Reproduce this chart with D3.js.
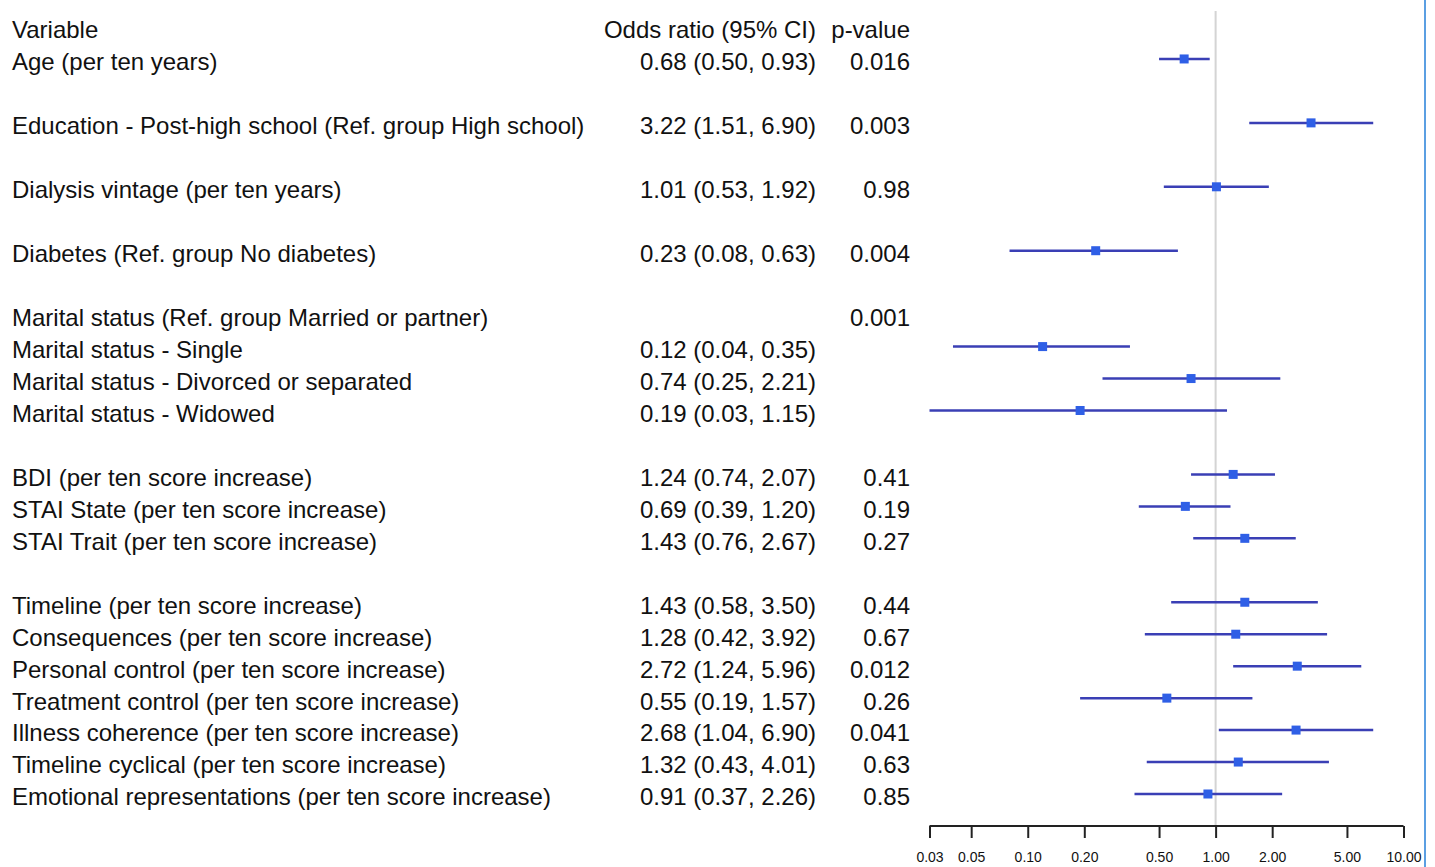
<!DOCTYPE html>
<html>
<head>
<meta charset="utf-8">
<script src="https://cdn.jsdelivr.net/npm/d3@7"></script>
<style>
  body { margin: 0; background: #fff; }
  svg text { font-family: "Liberation Sans", Arial, sans-serif; fill: #111; }
</style>
</head>
<body>
<svg id="chart" width="1435" height="867"></svg>
<script>
"use strict";

// Row labels (blank rows are spacers)
var labels = [
  "Age (per ten years)", "",
  "Education - Post-high school (Ref. group High school)", "",
  "Dialysis vintage (per ten years)", "",
  "Diabetes (Ref. group No diabetes)", "",
  "Marital status (Ref. group Married or partner)",
  "Marital status - Single",
  "Marital status - Divorced or separated",
  "Marital status - Widowed", "",
  "BDI (per ten score increase)",
  "STAI State (per ten score increase)",
  "STAI Trait (per ten score increase)", "",
  "Timeline (per ten score increase)",
  "Consequences (per ten score increase)",
  "Personal control (per ten score increase)",
  "Treatment control (per ten score increase)",
  "Illness coherence (per ten score increase)",
  "Timeline cyclical (per ten score increase)",
  "Emotional representations (per ten score increase)"
];

var oddsRatio = [0.68, null, 3.22, null, 1.01, null, 0.23, null, null, 0.12, 0.74, 0.19, null,
                 1.24, 0.69, 1.43, null, 1.43, 1.28, 2.72, 0.55, 2.68, 1.32, 0.91];
var lower     = [0.50, null, 1.51, null, 0.53, null, 0.08, null, null, 0.04, 0.25, 0.03, null,
                 0.74, 0.39, 0.76, null, 0.58, 0.42, 1.24, 0.19, 1.04, 0.43, 0.37];
var upper     = [0.93, null, 6.90, null, 1.92, null, 0.63, null, null, 0.35, 2.21, 1.15, null,
                 2.07, 1.20, 2.67, null, 3.50, 3.92, 5.96, 1.57, 6.90, 4.01, 2.26];
var pValues   = ["0.016", "", "0.003", "", "0.98", "", "0.004", "", "0.001", "", "", "", "",
                 "0.41", "0.19", "0.27", "", "0.44", "0.67", "0.012", "0.26", "0.041", "0.63", "0.85"];

var tickValues = [0.03, 0.05, 0.10, 0.20, 0.50, 1.00, 2.00, 5.00, 10.00];

var svg = d3.select("#chart");

var x = d3.scaleLog().domain([0.03, 10]).range([929.5, 1403.5]);
var y = d3.scaleLinear().domain([0, 24]).range([30, 797]);

var fmt = d3.format(".2f");

// Reference line at OR = 1
svg.append("line")
    .attr("x1", x(1)).attr("x2", x(1))
    .attr("y1", 11).attr("y2", 826)
    .attr("stroke", "#d4d4d4").attr("stroke-width", 2);

// Right border
svg.append("line")
    .attr("x1", 1425).attr("x2", 1425)
    .attr("y1", 0).attr("y2", 867)
    .attr("stroke", "#5b9fe2").attr("stroke-width", 2);

// Headers
var head = svg.append("g").attr("font-size", 24);
head.append("text").attr("x", 12).attr("y", y(0)).attr("dy", "0.35em").text("Variable");
head.append("text").attr("x", 816).attr("y", y(0)).attr("dy", "0.35em")
    .attr("text-anchor", "end").text("Odds ratio (95% CI)");
head.append("text").attr("x", 910).attr("y", y(0)).attr("dy", "0.35em")
    .attr("text-anchor", "end").text("p-value");

var rows = svg.append("g").attr("font-size", 24)
  .selectAll("g")
  .data(labels.map(function(d, i) { return i; }))
  .join("g")
    .attr("transform", function(i) { return "translate(0," + y(i + 1) + ")"; });

rows.append("text")
    .attr("x", 12).attr("dy", "0.35em")
    .text(function(i) { return labels[i]; });

rows.append("text")
    .attr("x", 816).attr("dy", "0.35em").attr("text-anchor", "end")
    .text(function(i) {
      return oddsRatio[i] == null ? "" :
        fmt(oddsRatio[i]) + " (" + fmt(lower[i]) + ", " + fmt(upper[i]) + ")";
    });

rows.append("text")
    .attr("x", 910).attr("dy", "0.35em").attr("text-anchor", "end")
    .text(function(i) { return pValues[i]; });

// CI lines and squares
var est = svg.append("g")
  .selectAll("g")
  .data(labels.map(function(d, i) { return i; }).filter(function(i) { return oddsRatio[i] != null; }))
  .join("g")
    .attr("transform", function(i) { return "translate(0," + (y(i + 1) - 3) + ")"; });

est.append("line")
    .attr("x1", function(i) { return x(lower[i]); })
    .attr("x2", function(i) { return x(upper[i]); })
    .attr("stroke", "#3a3fb5").attr("stroke-width", 2.5);

est.append("rect")
    .attr("x", function(i) { return x(oddsRatio[i]) - 4.5; })
    .attr("y", -4.5)
    .attr("width", 9).attr("height", 9)
    .attr("fill", "#2f5fe6");

// Axis
var axis = d3.axisBottom(x)
    .tickValues(tickValues)
    .tickFormat(fmt)
    .tickSize(12)
    .tickSizeOuter(0);

var ax = svg.append("g")
    .attr("transform", "translate(0,826)")
    .call(axis);

ax.select(".domain").attr("stroke", "#222").attr("stroke-width", 2)
    .attr("d", "M" + x(0.03) + ",0H" + x(10));
ax.selectAll(".tick line").attr("stroke", "#222").attr("stroke-width", 2);
ax.selectAll(".tick text")
    .attr("font-size", 14)
    .attr("font-family", "Liberation Sans, Arial, sans-serif")
    .attr("fill", "#222")
    .attr("y", 31)
    .attr("dy", "0.35em");
</script>
</body>
</html>
